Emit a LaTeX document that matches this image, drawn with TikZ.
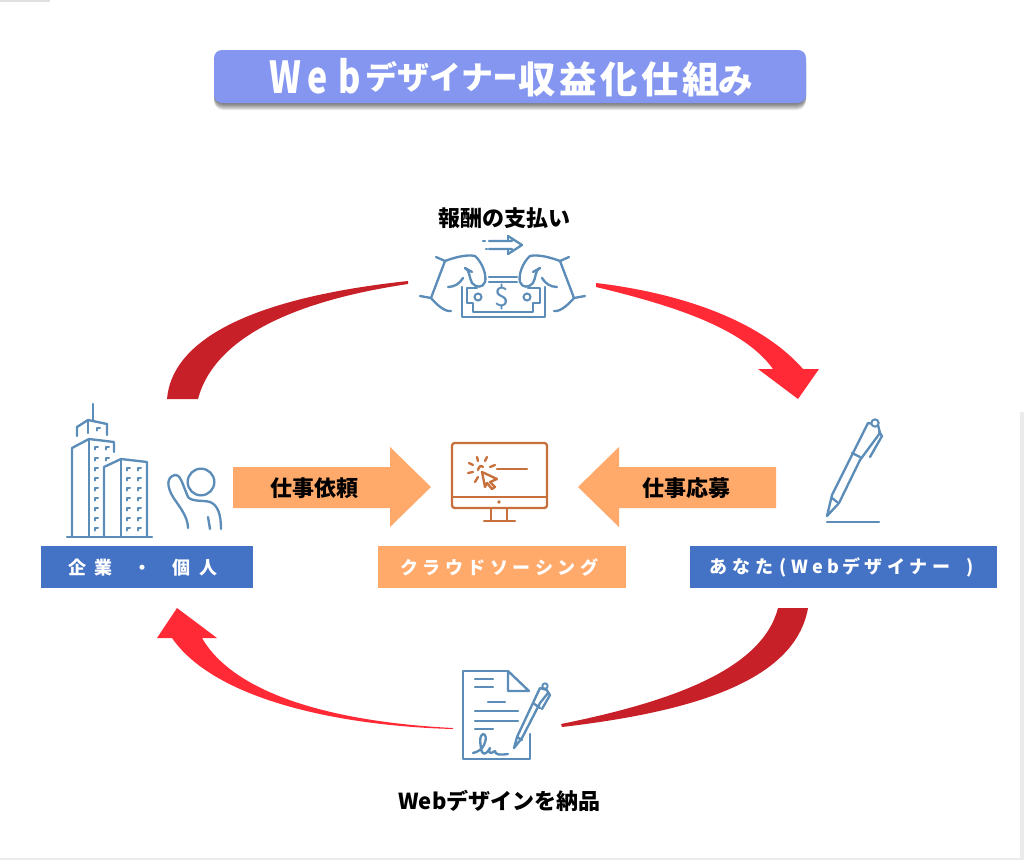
\documentclass[tikz,border=0pt]{standalone}
\usepackage{fontspec}
\setmainfont{Noto Sans CJK JP}
\usetikzlibrary{arrows.meta}
\definecolor{iconblue}{HTML}{5B8DB8}
\definecolor{iconorange}{HTML}{C8703C}
\definecolor{barblue}{HTML}{4472C4}
\definecolor{barorange}{HTML}{FFA96B}
\definecolor{titleblue}{HTML}{8496F0}
\definecolor{redA}{HTML}{C82028}
\definecolor{redB}{HTML}{FF2A36}
\newcommand\cb[2]{\makebox[\dimexpr #1pt*3/4\relax]{#2}}
\newcommand\tl[2]{\cb{#1}{\scalebox{.85}[1.1]{\fontsize{30}{30}\selectfont #2}}}
\newcommand\tk[1]{\cb{32}{\raisebox{3pt}{\fontsize{24}{24}\selectfont #1}}}
\tikzset{
 ic/.style={draw=iconblue,line width=1.75pt,line cap=round,line join=round,fill=none},
 thinic/.style={ic,line width=1.5pt},
 ico/.style={draw=iconorange,line width=1.75pt,line cap=round,line join=round,fill=none},
 barlabel/.style={text=white,font=\bfseries\fontsize{13.5}{14}\selectfont,inner sep=0pt,anchor=center},
 blacklabel/.style={text=black,font=\bfseries\fontsize{16.5}{18}\selectfont,inner sep=0pt,anchor=center},
}
\begin{document}
\begin{tikzpicture}[x=0.75pt,y=-0.75pt]
\useasboundingbox (0,0) rectangle (1024,860);
\fill[white] (0,0) rectangle (1024,860);
\fill[black!12] (0,0) rectangle (50,1.5);
\fill[black!8] (1020,412) rectangle (1024,860);
\fill[black!8] (0,858) rectangle (1024,860);
% title
\foreach \o in {1,...,7}{\fill[black,opacity=.09,rounded corners=7pt] (214,{50+\o}) rectangle (806,{103+\o});}
\node[fill=titleblue,rounded corners=6pt,minimum width=444pt,minimum height=39.75pt,inner sep=0pt] (title) at (510,76.5) {};
\node[text=white,font=\bfseries\fontsize{28}{30}\selectfont,inner sep=0pt] (titletext) at (509.5,78) {\tl{33}{W}\tl{32}{e}\tl{31}{b}\tk{デ}\tk{ザ}\tk{イ}\tk{ナ}\cb{24}{\raisebox{3pt}{\scalebox{.75}[1]{\fontsize{24}{24}\selectfont ー}}}\cb{41}{収}\cb{41}{益}\cb{41}{化}\cb{41}{仕}\cb{41}{組}\cb{28}{\fontsize{26}{26}\selectfont み}};
% swooshes
\fill[redA] (167,399) .. controls (172,340) and (250,298) .. (408,281) -- (408,284) .. controls (300,300) and (215,335) .. (198,399) -- cycle;
\fill[redB] (596,283) .. controls (680,293) and (760,320) .. (803,369) -- (819,369) -- (798,399) -- (758,369) -- (773,369) .. controls (745,330) and (680,307) .. (596,287) -- cycle;
\fill[redA] (808,608) .. controls (795,682) and (690,712) .. (562,727) -- (561,724) .. controls (670,702) and (762,670) .. (778,608) -- cycle;
\fill[redB] (177,608) -- (217,638) -- (202,638) .. controls (235,695) and (335,722) .. (453,728) -- (453,729) .. controls (340,726) and (215,700) .. (172,638) -- (157,638) -- cycle;
% block arrows
\fill[barorange] (233,467) -- (390,467) -- (390,447) -- (431,487) -- (390,527) -- (390,508) -- (233,508) -- cycle;
\fill[barorange] (776,467) -- (619,467) -- (619,447) -- (578,487) -- (619,527) -- (619,508) -- (776,508) -- cycle;
\node[blacklabel] (req) at (314,488) {仕事依頼};
\node[blacklabel] (app) at (686,488) {仕事応募};
% bars
\node[fill=barblue,minimum width=159pt,minimum height=31pt,inner sep=0pt] (b1) at (146.5,567) {};
\node[barlabel] (b1t) at (143,567.5) {\cb{26}{企}\cb{28}{業}\cb{50}{・}\cb{28}{個}\cb{26}{人}};
\node[fill=barorange,minimum width=186pt,minimum height=31pt,inner sep=0pt] (b2) at (502,567) {};
\node[barlabel] (b2t) at (499,567.5) {\cb{22.5}{ク}\cb{22.5}{ラ}\cb{22.5}{ウ}\cb{22.5}{ド}\cb{22.5}{ソ}\cb{22.5}{ー}\cb{22.5}{シ}\cb{22.5}{ン}\cb{22.5}{グ}};
\node[fill=barblue,minimum width=230pt,minimum height=31pt,inner sep=0pt] (b3) at (843.5,567) {};
\node[barlabel] (b3t) at (846,567.5) {\cb{23}{あ}\cb{23}{な}\cb{23}{た}\cb{14}{(}\cb{20}{W}\cb{15}{e}\cb{16}{b}\cb{22}{デ}\cb{22}{ザ}\cb{22}{イ}\cb{22}{ナ}\cb{26}{ー}\cb{30}{)}};
\node[blacklabel] (pay) at (504,218) {報酬の支払い};
\node[blacklabel] (deliver) at (499.5,801) {Webデザインを納品};
% building
\draw[ic] (67,537)--(152,537);
\draw[ic] (72,537)--(72,448)--(89,439)--(114,442)--(114,452);
\draw[ic] (89,439)--(89,537);
\draw[ic] (104,537)--(104,467)--(121,459)--(147,462)--(147,537);
\draw[ic] (121,459)--(121,537);
\draw[ic] (77,436)--(77,427)--(88,420)--(107,424)--(107,435);
\draw[ic] (88,420)--(88,433);
\draw[ic] (93,404)--(93,420);
\foreach \yy in {447,458,468,478,488,498,508,518,528}{
 \draw[thinic] (95,{\yy+2.5})--(95,\yy)--(98,\yy);
}
\foreach \yy in {447,458}{\draw[thinic] (106,{\yy+2.5})--(106,\yy)--(109,\yy);}
\foreach \yy in {468,478,488,498,508,518,528}{
 \draw[thinic] (127,{\yy+2.5})--(127,\yy)--(130,\yy);
 \draw[thinic] (138,{\yy+2.5})--(138,\yy)--(141,\yy);
}
\draw[thinic] (97,430.5)--(97,428)--(100,428);
% person
\node[draw=iconblue,line width=1.75pt,circle,minimum size=20pt,inner sep=0pt] (head) at (201,482) {};
\draw[ic] (188,528) .. controls (188,516) and (178,505) .. (173,497) .. controls (167,487) and (166,477) .. (175,475) .. controls (179,475) and (180,478) .. (182,482) -- (188,497) .. controls (192,502) and (203,500) .. (210,502) .. controls (218,505) and (221,515) .. (221,529);
\draw[ic] (208,517)--(210,529);
% money
\draw[ic] (489,241)--(512,241) (489,249)--(512,249) (508,236)--(522,245)--(508,254);
\draw[ic] (508,236)--(508,241) (508,249)--(508,254);
\draw[ic] (483,241)--(485,241) (486,249)--(487,249);
\foreach \sc/\sh in {1/0,-1/1005}{
\begin{scope}[shift={(\sh,0)},xscale=\sc]
\draw[ic] (436,257)--(445,261)--(431,298)--(420,296);
\draw[ic] (445,261) .. controls (453,258) and (466,254) .. (475,256) .. controls (482,262) and (487,275) .. (485,282) .. controls (483,288) and (476,288) .. (472,283) .. controls (469,278) and (470,270) .. (465,268);
\draw[ic] (465,268)--(472,272);
\draw[ic] (448,287) .. controls (455,287) and (460,283) .. (463,278);
\draw[ic] (431,298) .. controls (437,305) and (445,312) .. (451,311);
\end{scope}}
\draw[ic] (489,277)--(517,277) (489,282)--(517,282);
\draw[ic] (462,287)--(462,317)--(545,317)--(545,287);
\draw[ic] (477,288)--(467,288)--(467,303)--(473,303)--(473,312)--(533,312)--(533,303)--(540,303)--(540,288)--(528,288);
\node[draw=iconblue,line width=1.5pt,circle,minimum size=5.25pt,inner sep=0pt] (c1) at (478,297) {};
\node[draw=iconblue,line width=1.5pt,circle,minimum size=5.25pt,inner sep=0pt] (c2) at (527,297) {};
\node[text=iconblue,font=\fontsize{20}{20}\selectfont,inner sep=0pt] (dollar) at (502,297) {\$};
% monitor
\draw[ico,rounded corners=2pt] (452,443) rectangle (547,508);
\draw[ico] (452,497)--(547,497);
\fill[iconorange] (499,502) circle (1.8);
\draw[ico] (491,509)--(491,521) (507,509)--(507,521) (484,521)--(515,521);
\draw[ico] (497,469)--(527,469);
\draw[ico] (482,472)--(497,479)--(490,482)--(495,487)--(492,489)--(487,483)--(485,487)--cycle;
\draw[ico] (477,457)--(478,461) (487,457)--(485,461) (469,463)--(473,465) (495,465)--(490,467) (468,473)--(473,472) (475,482)--(478,477);
\draw[ico] (478,470) .. controls (479,466) and (481,465) .. (483,467);
% pen
\draw[ic] (827,516)--(832,495)--(852,455)--(868,423)--(878,425)--(880,433)--(860,460)--(839,503)--cycle;
\draw[ic] (852,453)--(860,457);
\draw[ic] (832,498)--(837,502);
\draw[ic] (870,457)--(882,436)--(879,432);
\node[draw=iconblue,line width=1.5pt,circle,minimum size=5.5pt,inner sep=0pt,fill=white] (pentop) at (875,423) {};
\draw[ic] (827,522)--(879,522);
% document
\draw[ic] (508,671)--(463,671)--(463,759)--(530,759)--(530,734);
\draw[ic] (508,671)--(529,691)--(508,691)--cycle;
\draw[ic] (475,679)--(493,679) (475,687)--(493,687) (488,702)--(505,702) (475,711)--(518,711) (475,721)--(518,721) (475,729)--(493,729);
\draw[ic] (473,753) .. controls (478,752) and (482,749) .. (484,745) .. controls (487,739) and (486,734) .. (483,734) .. controls (479,735) and (480,745) .. (482,752) .. controls (484,756) and (488,752) .. (490,748) .. controls (488,752) and (489,755) .. (495,751) .. controls (495,755) and (500,755) .. (508,754);
\draw[ic] (514,748)--(517,737)--(540,688)--(547,690)--(548,693)--(540,703)--(522,738)--cycle;
\draw[ic] (533,703)--(540,708);
\draw[ic] (517,737)--(522,740);
\draw[ic] (542,709)--(550,695)--(548,692);
\node[draw=iconblue,line width=1.4pt,circle,minimum size=4pt,inner sep=0pt,fill=white] (pentop2) at (545,686) {};
\end{tikzpicture}
\end{document}
